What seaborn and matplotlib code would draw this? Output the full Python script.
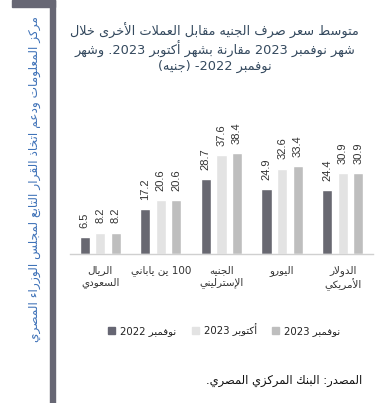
import re
import pandas as pd
import seaborn as sns
import matplotlib.pyplot as plt
from matplotlib.patches import Rectangle

# ---------------------------------------------
# simple arabic shaping + bidi (matplotlib has none)
# ---------------------------------------------
FORMS = {
    "ء": (0xFE80, None, None, None),
    "آ": (0xFE81, 0xFE82, None, None),
    "أ": (0xFE83, 0xFE84, None, None),
    "ؤ": (0xFE85, 0xFE86, None, None),
    "إ": (0xFE87, 0xFE88, None, None),
    "ئ": (0xFE89, 0xFE8A, 0xFE8B, 0xFE8C),
    "ا": (0xFE8D, 0xFE8E, None, None),
    "ب": (0xFE8F, 0xFE90, 0xFE91, 0xFE92),
    "ة": (0xFE93, 0xFE94, None, None),
    "ت": (0xFE95, 0xFE96, 0xFE97, 0xFE98),
    "ث": (0xFE99, 0xFE9A, 0xFE9B, 0xFE9C),
    "ج": (0xFE9D, 0xFE9E, 0xFE9F, 0xFEA0),
    "ح": (0xFEA1, 0xFEA2, 0xFEA3, 0xFEA4),
    "خ": (0xFEA5, 0xFEA6, 0xFEA7, 0xFEA8),
    "د": (0xFEA9, 0xFEAA, None, None),
    "ذ": (0xFEAB, 0xFEAC, None, None),
    "ر": (0xFEAD, 0xFEAE, None, None),
    "ز": (0xFEAF, 0xFEB0, None, None),
    "س": (0xFEB1, 0xFEB2, 0xFEB3, 0xFEB4),
    "ش": (0xFEB5, 0xFEB6, 0xFEB7, 0xFEB8),
    "ص": (0xFEB9, 0xFEBA, 0xFEBB, 0xFEBC),
    "ض": (0xFEBD, 0xFEBE, 0xFEBF, 0xFEC0),
    "ط": (0xFEC1, 0xFEC2, 0xFEC3, 0xFEC4),
    "ظ": (0xFEC5, 0xFEC6, 0xFEC7, 0xFEC8),
    "ع": (0xFEC9, 0xFECA, 0xFECB, 0xFECC),
    "غ": (0xFECD, 0xFECE, 0xFECF, 0xFED0),
    "ف": (0xFED1, 0xFED2, 0xFED3, 0xFED4),
    "ق": (0xFED5, 0xFED6, 0xFED7, 0xFED8),
    "ك": (0xFED9, 0xFEDA, 0xFEDB, 0xFEDC),
    "ل": (0xFEDD, 0xFEDE, 0xFEDF, 0xFEE0),
    "م": (0xFEE1, 0xFEE2, 0xFEE3, 0xFEE4),
    "ن": (0xFEE5, 0xFEE6, 0xFEE7, 0xFEE8),
    "ه": (0xFEE9, 0xFEEA, 0xFEEB, 0xFEEC),
    "و": (0xFEED, 0xFEEE, None, None),
    "ى": (0xFEEF, 0xFEF0, None, None),
    "ي": (0xFEF1, 0xFEF2, 0xFEF3, 0xFEF4),
}
LAM_ALEF = {"آ": (0xFEF5, 0xFEF6), "أ": (0xFEF7, 0xFEF8),
            "إ": (0xFEF9, 0xFEFA), "ا": (0xFEFB, 0xFEFC)}
MIRROR = {"(": ")", ")": "("}


def dual(c):
    return c in FORMS and FORMS[c][2] is not None


def shape(s):
    out = []
    i = 0
    while i < len(s):
        c = s[i]
        if c not in FORMS:
            out.append(c)
            i += 1
            continue
        prev_join = i > 0 and dual(s[i - 1])
        if c == "ل" and i + 1 < len(s) and s[i + 1] in LAM_ALEF:
            iso, fin = LAM_ALEF[s[i + 1]]
            out.append(chr(fin if prev_join else iso))
            i += 2
            continue
        next_join = dual(c) and i + 1 < len(s) and s[i + 1] in FORMS and s[i + 1] != "ء"
        iso, fin, ini, med = FORMS[c]
        if prev_join and next_join:
            code = med
        elif prev_join:
            code = fin
        elif next_join:
            code = ini
        else:
            code = iso
        out.append(chr(code))
        i += 1
    return "".join(out)


def ar(text):
    lines = []
    for line in text.split("\n"):
        shaped = shape(line)
        tokens = re.findall(r"[0-9]+(?:[.,][0-9]+)*|.", shaped)
        vis = []
        for t in reversed(tokens):
            vis.append(MIRROR.get(t, t))
        lines.append("".join(vis))
    return "\n".join(lines)


# ---------------------------------------------
# data
# ---------------------------------------------
categories = ["الريال\nالسعودي", "100 ين ياباني", "الجنيه\nالإسترليني",
              "اليورو", "الدولار\nالأمريكي"]
periods = ["نوفمبر 2022", "أكتوبر 2023", "نوفمبر 2023"]
nov_2022 = [6.5, 17.2, 28.7, 24.9, 24.4]
oct_2023 = [8.2, 20.6, 37.6, 32.6, 30.9]
nov_2023 = [8.2, 20.6, 38.4, 33.4, 30.9]

title = ("متوسط سعر صرف الجنيه مقابل العملات الأخرى خلال\n"
         "شهر نوفمبر 2023 مقارنة بشهر أكتوبر 2023. وشهر\n"
         "نوفمبر 2022- (جنيه)")
side_text = "مركز المعلومات ودعم اتخاذ القرار التابع لمجلس الوزراء المصري"
source = "المصدر: البنك المركزي المصري."

colors = ["#666673", "#e3e3e3", "#bebebe"]

rows = []
for p, vals in zip(periods, [nov_2022, oct_2023, nov_2023]):
    for c, v in zip(categories, vals):
        rows.append({"cat": ar(c), "period": ar(p), "value": v})
df = pd.DataFrame(rows)

# ---------------------------------------------
# plot
# ---------------------------------------------
sns.set_theme(style="white")
plt.rcParams["font.family"] = ["DejaVu Sans"]

fig = plt.figure(figsize=(3.82, 4.03), dpi=100)
ax = fig.add_axes([0.1832, 0.3697, 0.7932, 0.2928])

sns.barplot(data=df, x="cat", y="value", hue="period",
            order=[ar(c) for c in categories],
            hue_order=[ar(p) for p in periods],
            palette=colors, width=0.77, gap=0.35, ax=ax, legend=False)

for cont in ax.containers:
    ax.bar_label(cont, fmt="%.1f", rotation=90, padding=6.5,
                 fontsize=8, color="#333333", family="Liberation Sans")

ax.set_ylim(0, 45)
ax.set_xlim(-0.5, 4.5)
ax.set_xlabel("")
ax.set_ylabel("")
ax.set_yticks([])
ax.tick_params(axis="x", length=0, pad=8, labelsize=7.5, colors="#333333")
for s in ["top", "left", "right"]:
    ax.spines[s].set_visible(False)
ax.spines["bottom"].set_color("#d0d0d0")
ax.spines["bottom"].set_linewidth(1)

# legend
handles = [Rectangle((0, 0), 1, 1, color=c) for c in colors]
fig.legend(handles, [ar(p) for p in periods], loc="center",
           bbox_to_anchor=(0.587, 0.181), ncol=3, frameon=False,
           fontsize=7.3, handlelength=0.7, handleheight=0.7,
           handletextpad=0.5, columnspacing=1.5, labelcolor="#222222")

# title
fig.text(0.562, 0.881, ar(title), ha="center", va="center",
         fontsize=9.3, color="#34495e", linespacing=1.12)

# source
fig.text(0.948, 0.057, ar(source), ha="right", va="center",
         fontsize=8.3, color="#111111")

# left decoration
fig.patches.append(Rectangle((50 / 382, 0), 5 / 382, 1, transform=fig.transFigure,
                             color="#676774", zorder=0))
fig.patches.append(Rectangle((12 / 382, 1 - 7 / 403), 43 / 382, 7 / 403,
                             transform=fig.transFigure, color="#676774", zorder=0))
fig.text(35 / 382, 0.556, ar(side_text), rotation=90, ha="center", va="center",
         fontsize=8.7, color="#3f72b8")

fig.savefig("out.png", dpi=100)
